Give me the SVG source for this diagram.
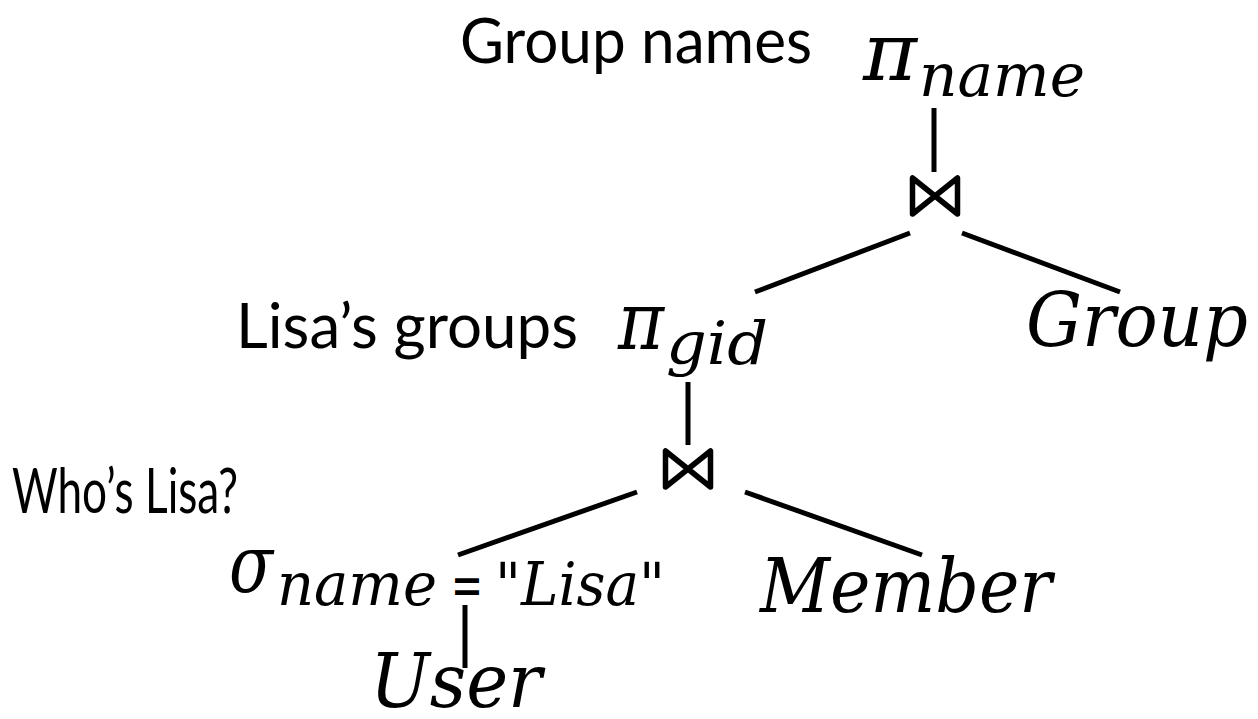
<svg xmlns="http://www.w3.org/2000/svg" width="1258" height="719" viewBox="0 0 1258 719">
  <style>
    .note { font-family: Lato, "Open Sans", "Liberation Sans", sans-serif; font-size: 62px; fill: #000; }
    .math { font-family: "DejaVu Serif", "Liberation Serif", serif; font-style: italic; fill: #000; }
    .big { font-size: 74px; }
    .op-sym { font-size: 80px; }
    .sub { font-size: 60px; }
    .op { font-style: normal; }
    .edge { stroke: #000; stroke-width: 5; fill: none; }
    .join { stroke: #000; stroke-width: 5.5; fill: none; stroke-linejoin: round; }
  </style>

  <!-- annotations -->
  <g id="note-group-names"><text class="note" x="460" y="63" textLength="352" lengthAdjust="spacingAndGlyphs">Group names</text></g>
  <g id="note-lisas-groups"><text class="note" x="236" y="348" textLength="342" lengthAdjust="spacingAndGlyphs">Lisa’s groups</text></g>
  <g id="note-whos-lisa"><text class="note" x="12" y="513" textLength="226" lengthAdjust="spacingAndGlyphs">Who’s Lisa?</text></g>

  <!-- operators -->
  <g id="pi-name">
    <text class="math op-sym" x="863" y="80" textLength="54" lengthAdjust="spacingAndGlyphs">π</text>
    <text class="math sub" x="919" y="96" textLength="166" lengthAdjust="spacingAndGlyphs">name</text>
  </g>
  <g id="join-top"><path class="join" d="M912.5,178 L912.5,214 L957.5,178 L957.5,214 Z"/></g>
  <g id="pi-gid">
    <text class="math op-sym" x="618" y="349" textLength="46" lengthAdjust="spacingAndGlyphs">π</text>
    <text class="math sub" x="666" y="364" textLength="102" lengthAdjust="spacingAndGlyphs">gid</text>
  </g>
  <g id="group"><text class="math big" x="1026" y="346" textLength="222" lengthAdjust="spacingAndGlyphs">Group</text></g>
  <g id="join-bottom"><path class="join" d="M665.5,451 L665.5,487 L710.5,451 L710.5,487 Z"/></g>
  <g id="sigma">
    <text class="math op-sym" x="229" y="592" textLength="44" lengthAdjust="spacingAndGlyphs">σ</text>
    <text class="math sub" y="605"><tspan x="277" textLength="160" lengthAdjust="spacingAndGlyphs">name</tspan><tspan class="op" x="451" textLength="32" lengthAdjust="spacingAndGlyphs">=</tspan><tspan x="495" textLength="170" lengthAdjust="spacingAndGlyphs">"Lisa"</tspan></text>
  </g>
  <g id="member"><text class="math big" x="760" y="612" textLength="292" lengthAdjust="spacingAndGlyphs">Member</text></g>
  <g id="user"><text class="math big" x="370" y="707" textLength="172" lengthAdjust="spacingAndGlyphs">User</text></g>

  <!-- tree edges -->
  <g id="edges">
    <line class="edge" x1="934" y1="108" x2="934" y2="172"/>
    <line class="edge" x1="910" y1="233" x2="755" y2="292"/>
    <line class="edge" x1="962" y1="233" x2="1120" y2="292"/>
    <line class="edge" x1="688" y1="382" x2="688" y2="445"/>
    <line class="edge" x1="637" y1="492" x2="458" y2="555"/>
    <line class="edge" x1="745" y1="492" x2="922" y2="555"/>
    <line class="edge" x1="465" y1="605" x2="465" y2="668"/>
  </g>
</svg>
